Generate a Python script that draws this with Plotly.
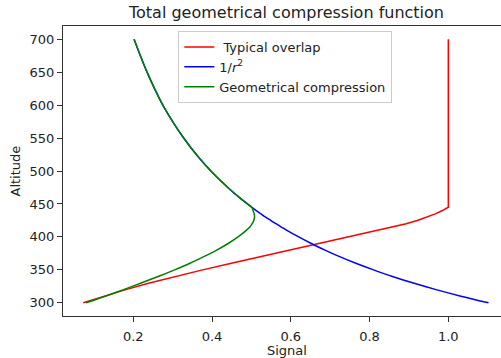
import plotly.graph_objects as go

# Altitude grid (shared by all three profiles)
altitude = [300, 310, 320, 330, 340, 350, 360, 370, 380, 390, 400, 410, 415,
            420, 425, 430, 435, 440, 445, 450, 460, 475, 500, 525, 550, 575,
            600, 625, 650, 675, 700]

# Typical overlap function
overlap = [0.073, 0.125, 0.181, 0.241, 0.306, 0.376, 0.449, 0.524, 0.600,
           0.676, 0.751, 0.826, 0.861, 0.893, 0.921, 0.947, 0.967, 0.985,
           1.0, 1.0, 1.0, 1.0, 1.0, 1.0, 1.0, 1.0, 1.0, 1.0, 1.0, 1.0, 1.0]

# 1/r^2 range dependence
inv_r2 = [1.102, 1.032, 0.969, 0.911, 0.858, 0.810, 0.765, 0.724, 0.687,
          0.652, 0.620, 0.590, 0.576, 0.562, 0.549, 0.536, 0.524, 0.512,
          0.501, 0.490, 0.469, 0.440, 0.397, 0.360, 0.328, 0.300, 0.275,
          0.254, 0.235, 0.218, 0.202]

# Total geometrical compression
geo_comp = [0.080, 0.129, 0.175, 0.220, 0.263, 0.305, 0.344, 0.379, 0.412,
            0.441, 0.466, 0.487, 0.496, 0.502, 0.506, 0.508, 0.507, 0.504,
            0.501, 0.490, 0.469, 0.440, 0.397, 0.360, 0.328, 0.300, 0.275,
            0.254, 0.235, 0.218, 0.202]

FONT = "DejaVu Sans"
TXT = "#222222"
W, H = 501, 358
ML, MR, MT, MB = 63, 0, 26, 42
PW, PH = W - ML - MR, H - MT - MB


def px_x(px):
    return (px - ML) / PW


def px_y(py):
    return (H - MB - py) / PH


fig = go.Figure()
# the overlap keeps its sharp knee, so it stays a plain polyline
fig.add_trace(go.Scatter(x=overlap, y=altitude, mode="lines",
                         name="\u00a0Typical overlap",
                         line=dict(color="#ff0000", width=1.5)))
fig.add_trace(go.Scatter(x=inv_r2, y=altitude, mode="lines",
                         name="1/<i>r</i><sup>2</sup>",
                         line=dict(color="#0000ff", width=1.5,
                                   shape="spline", smoothing=0.8)))
fig.add_trace(go.Scatter(x=geo_comp, y=altitude, mode="lines",
                         name="Geometrical compression",
                         line=dict(color="#008000", width=1.5,
                                   shape="spline", smoothing=0.8)))

axis_common = dict(
    showgrid=False, zeroline=False, showline=True, linecolor="#333333",
    linewidth=1, ticks="outside", ticklen=5, tickwidth=1, tickcolor="#333333",
    tickfont=dict(family=FONT, size=13, color=TXT),
)

fig.update_layout(
    width=W, height=H,
    margin=dict(l=ML, r=MR, t=MT, b=MB, pad=0),
    paper_bgcolor="white", plot_bgcolor="white",
    font=dict(family=FONT, size=13, color=TXT),
    title=dict(text="Total geometrical compression function",
               font=dict(family=FONT, size=16, color=TXT),
               x=286.5 / W, xref="container", xanchor="center",
               y=1, yref="paper", yanchor="bottom", pad=dict(b=8)),
    xaxis=dict(range=[0.0215, 1.1338], tickvals=[0.2, 0.4, 0.6, 0.8, 1.0],
               tickformat=".1f", mirror=True, ticklabelstandoff=3,
               **axis_common),
    yaxis=dict(range=[280, 720],
               tickvals=[300, 350, 400, 450, 500, 550, 600, 650, 700],
               mirror=False, **axis_common),
    legend=dict(x=px_x(178.3), y=px_y(31), xanchor="left", yanchor="top",
                bgcolor="rgba(255,255,255,0.8)", bordercolor="#cccccc",
                borderwidth=1, tracegroupgap=0,
                font=dict(family=FONT, size=13, color=TXT)),
    annotations=[
        dict(text="Signal", xref="paper", yref="paper",
             x=px_x(286.5), y=px_y(350), xanchor="center", yanchor="middle",
             showarrow=False, font=dict(family=FONT, size=13, color=TXT)),
        dict(text="Altitude", xref="paper", yref="paper",
             x=px_x(14.5), y=0.5, textangle=-90,
             xanchor="center", yanchor="middle", showarrow=False,
             font=dict(family=FONT, size=13, color=TXT)),
    ],
)

fig.write_html("out.html")
